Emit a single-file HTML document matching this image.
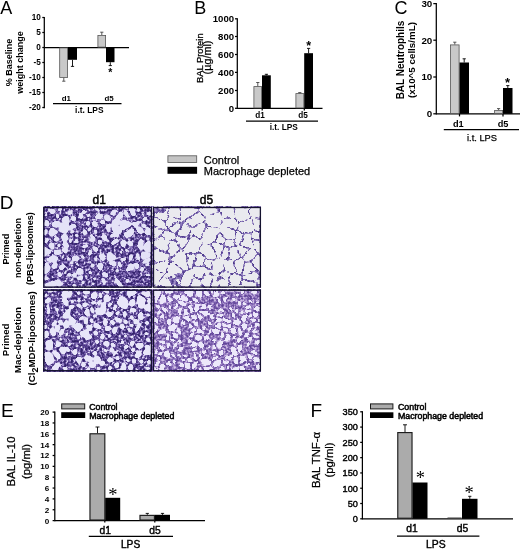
<!DOCTYPE html>
<html lang="en">
<head>
<meta charset="utf-8">
<title>Figure</title>
<style>
html,body{margin:0;padding:0;background:#fff;}
body{width:520px;height:549px;overflow:hidden;}
svg{display:block;font-family:"Liberation Sans", Arial, sans-serif;}
</style>
</head>
<body>
<svg width="520" height="549" viewBox="0 0 520 549">
<rect x="0" y="0" width="520" height="549" fill="#fff"/>
<text x="0.2" y="13.8" font-size="18" text-anchor="start" fill="#000">A</text>
<line x1="44.3" y1="16.875" x2="44.3" y2="108.125" stroke="#000" stroke-width="1.25"/>
<line x1="42.3" y1="17.5" x2="44.3" y2="17.5" stroke="#000" stroke-width="1.25"/>
<text x="40.8" y="19.8" font-size="8.2" text-anchor="end" font-weight="bold" fill="#000">10</text>
<line x1="42.3" y1="32.5" x2="44.3" y2="32.5" stroke="#000" stroke-width="1.25"/>
<text x="40.8" y="34.8" font-size="8.2" text-anchor="end" font-weight="bold" fill="#000">5</text>
<line x1="42.3" y1="47.5" x2="44.3" y2="47.5" stroke="#000" stroke-width="1.25"/>
<text x="40.8" y="49.8" font-size="8.2" text-anchor="end" font-weight="bold" fill="#000">0</text>
<line x1="42.3" y1="62.5" x2="44.3" y2="62.5" stroke="#000" stroke-width="1.25"/>
<text x="40.8" y="64.8" font-size="8.2" text-anchor="end" font-weight="bold" fill="#000">-5</text>
<line x1="42.3" y1="77.5" x2="44.3" y2="77.5" stroke="#000" stroke-width="1.25"/>
<text x="40.8" y="79.8" font-size="8.2" text-anchor="end" font-weight="bold" fill="#000">-10</text>
<line x1="42.3" y1="92.5" x2="44.3" y2="92.5" stroke="#000" stroke-width="1.25"/>
<text x="40.8" y="94.8" font-size="8.2" text-anchor="end" font-weight="bold" fill="#000">-15</text>
<line x1="42.3" y1="107.5" x2="44.3" y2="107.5" stroke="#000" stroke-width="1.25"/>
<text x="40.8" y="109.8" font-size="8.2" text-anchor="end" font-weight="bold" fill="#000">-20</text>
<line x1="44.3" y1="47.5" x2="129" y2="47.5" stroke="#000" stroke-width="1.25"/>
<rect x="59.699999999999996" y="47.9" width="7.900000000000003" height="29.499999999999996" fill="#c9c9c9" stroke="#555" stroke-width="0.8"/>
<line x1="63.8" y1="77.8" x2="63.8" y2="81.2" stroke="#444" stroke-width="0.9"/>
<line x1="62.199999999999996" y1="81.2" x2="65.39999999999999" y2="81.2" stroke="#444" stroke-width="0.9"/>
<rect x="68" y="47.5" width="9" height="12.299999999999997" fill="#000"/>
<line x1="72.5" y1="59.8" x2="72.5" y2="66.4" stroke="#000" stroke-width="0.9"/>
<line x1="70.9" y1="66.4" x2="74.1" y2="66.4" stroke="#000" stroke-width="0.9"/>
<rect x="97.9" y="35.4" width="7.7" height="11.7" fill="#c9c9c9" stroke="#555" stroke-width="0.8"/>
<line x1="101.8" y1="35" x2="101.8" y2="32.2" stroke="#444" stroke-width="0.9"/>
<line x1="100.2" y1="32.2" x2="103.39999999999999" y2="32.2" stroke="#444" stroke-width="0.9"/>
<rect x="106" y="47.5" width="8.5" height="14.700000000000003" fill="#000"/>
<line x1="110.3" y1="62.2" x2="110.3" y2="65.6" stroke="#000" stroke-width="0.9"/>
<line x1="108.7" y1="65.6" x2="111.89999999999999" y2="65.6" stroke="#000" stroke-width="0.9"/>
<text x="110.3" y="76.3" font-size="10.5" text-anchor="middle" font-weight="bold" fill="#000">*</text>
<text x="66.3" y="100.8" font-size="7.9" text-anchor="middle" font-weight="bold" fill="#000">d1</text>
<text x="109" y="100.8" font-size="7.9" text-anchor="middle" font-weight="bold" fill="#000">d5</text>
<line x1="53" y1="103.5" x2="121.5" y2="103.5" stroke="#000" stroke-width="1.25"/>
<text x="89.3" y="113.4" font-size="8.4" text-anchor="middle" font-weight="bold" fill="#000">i.t. LPS</text>
<text x="12.2" y="62.5" font-size="9" text-anchor="middle" font-weight="bold" transform="rotate(-90 12.2 62.5)" fill="#000">% Baseline</text>
<text x="23.2" y="62.5" font-size="9" text-anchor="middle" font-weight="bold" transform="rotate(-90 23.2 62.5)" fill="#000">weight change</text>
<text x="194.3" y="13.7" font-size="18" text-anchor="start" fill="#000">B</text>
<line x1="237.3" y1="18.175" x2="237.3" y2="108.925" stroke="#000" stroke-width="1.25"/>
<line x1="235.0" y1="18.8" x2="237.3" y2="18.8" stroke="#000" stroke-width="1.25"/>
<text x="234.1" y="22.0" font-size="9.6" text-anchor="end" font-weight="bold" fill="#000">1000</text>
<line x1="235.0" y1="36.5" x2="237.3" y2="36.5" stroke="#000" stroke-width="1.25"/>
<text x="234.1" y="39.7" font-size="9.6" text-anchor="end" font-weight="bold" fill="#000">800</text>
<line x1="235.0" y1="54.5" x2="237.3" y2="54.5" stroke="#000" stroke-width="1.25"/>
<text x="234.1" y="57.7" font-size="9.6" text-anchor="end" font-weight="bold" fill="#000">600</text>
<line x1="235.0" y1="72.4" x2="237.3" y2="72.4" stroke="#000" stroke-width="1.25"/>
<text x="234.1" y="75.6" font-size="9.6" text-anchor="end" font-weight="bold" fill="#000">400</text>
<line x1="235.0" y1="90.5" x2="237.3" y2="90.5" stroke="#000" stroke-width="1.25"/>
<text x="234.1" y="93.7" font-size="9.6" text-anchor="end" font-weight="bold" fill="#000">200</text>
<line x1="235.0" y1="108.3" x2="237.3" y2="108.3" stroke="#000" stroke-width="1.25"/>
<text x="234.1" y="111.5" font-size="9.6" text-anchor="end" font-weight="bold" fill="#000">0</text>
<line x1="237.3" y1="108.3" x2="322.5" y2="108.3" stroke="#000" stroke-width="1.25"/>
<line x1="262.2" y1="108.3" x2="262.2" y2="110.6" stroke="#000" stroke-width="1.25"/>
<line x1="304.3" y1="108.3" x2="304.3" y2="110.6" stroke="#000" stroke-width="1.25"/>
<rect x="253.9" y="86.60000000000001" width="7.7" height="21.299999999999994" fill="#c9c9c9" stroke="#555" stroke-width="0.8"/>
<line x1="257.8" y1="86.2" x2="257.8" y2="82.5" stroke="#444" stroke-width="0.9"/>
<line x1="256.2" y1="82.5" x2="259.40000000000003" y2="82.5" stroke="#444" stroke-width="0.9"/>
<rect x="262" y="75.3" width="8.800000000000011" height="33.0" fill="#000"/>
<line x1="266.4" y1="75.3" x2="266.4" y2="74.3" stroke="#000" stroke-width="0.9"/>
<line x1="264.79999999999995" y1="74.3" x2="268.0" y2="74.3" stroke="#000" stroke-width="0.9"/>
<rect x="295.9" y="93.60000000000001" width="7.899999999999989" height="14.299999999999994" fill="#c9c9c9" stroke="#555" stroke-width="0.8"/>
<line x1="299.8" y1="93.2" x2="299.8" y2="92.6" stroke="#444" stroke-width="0.9"/>
<line x1="298.2" y1="92.6" x2="301.40000000000003" y2="92.6" stroke="#444" stroke-width="0.9"/>
<rect x="304.2" y="53.2" width="8.800000000000011" height="55.099999999999994" fill="#000"/>
<line x1="308.6" y1="53.2" x2="308.6" y2="48.4" stroke="#000" stroke-width="0.9"/>
<line x1="307.0" y1="48.4" x2="310.20000000000005" y2="48.4" stroke="#000" stroke-width="0.9"/>
<text x="308.6" y="49.5" font-size="12.5" text-anchor="middle" font-weight="bold" fill="#000">*</text>
<text x="260" y="118.3" font-size="8.2" text-anchor="middle" font-weight="bold" fill="#000">d1</text>
<text x="303" y="118.3" font-size="8.2" text-anchor="middle" font-weight="bold" fill="#000">d5</text>
<line x1="246" y1="121" x2="318" y2="121" stroke="#000" stroke-width="1.25"/>
<text x="283.8" y="130.2" font-size="8.3" text-anchor="middle" font-weight="bold" fill="#000">i.t. LPS</text>
<text x="202.8" y="58.2" font-size="9.4" text-anchor="middle" transform="rotate(-90 202.8 58.2)" fill="#000" stroke="#000" stroke-width="0.25">BAL Protein</text>
<text x="210.8" y="57.5" font-size="10.8" text-anchor="middle" transform="rotate(-90 210.8 57.5)" fill="#000" stroke="#000" stroke-width="0.25">(µg/ml)</text>
<text x="394.6" y="13.8" font-size="18" text-anchor="start" fill="#000">C</text>
<line x1="436.3" y1="2.975" x2="436.3" y2="114.425" stroke="#000" stroke-width="1.25"/>
<line x1="433.3" y1="3.6" x2="436.3" y2="3.6" stroke="#000" stroke-width="1.25"/>
<text x="432.3" y="7.0" font-size="9.8" text-anchor="end" font-weight="bold" fill="#000">30</text>
<line x1="433.3" y1="40.2" x2="436.3" y2="40.2" stroke="#000" stroke-width="1.25"/>
<text x="432.3" y="43.6" font-size="9.8" text-anchor="end" font-weight="bold" fill="#000">20</text>
<line x1="433.3" y1="77" x2="436.3" y2="77" stroke="#000" stroke-width="1.25"/>
<text x="432.3" y="80.4" font-size="9.8" text-anchor="end" font-weight="bold" fill="#000">10</text>
<line x1="433.3" y1="113.8" x2="436.3" y2="113.8" stroke="#000" stroke-width="1.25"/>
<text x="432.3" y="117.2" font-size="9.8" text-anchor="end" font-weight="bold" fill="#000">0</text>
<line x1="436.3" y1="113.8" x2="520" y2="113.8" stroke="#000" stroke-width="1.25"/>
<line x1="459.5" y1="113.8" x2="459.5" y2="116.4" stroke="#000" stroke-width="1.25"/>
<line x1="503" y1="113.8" x2="503" y2="116.4" stroke="#000" stroke-width="1.25"/>
<rect x="450.4" y="44.9" width="8.7" height="68.5" fill="#c9c9c9" stroke="#555" stroke-width="0.8"/>
<line x1="454.8" y1="44.5" x2="454.8" y2="42.2" stroke="#444" stroke-width="0.9"/>
<line x1="453.2" y1="42.2" x2="456.40000000000003" y2="42.2" stroke="#444" stroke-width="0.9"/>
<rect x="459.5" y="62.5" width="9.5" height="51.3" fill="#000"/>
<line x1="464.2" y1="62.5" x2="464.2" y2="58.8" stroke="#000" stroke-width="0.9"/>
<line x1="462.59999999999997" y1="58.8" x2="465.8" y2="58.8" stroke="#000" stroke-width="0.9"/>
<rect x="494.59999999999997" y="110.4" width="8.00000000000001" height="2.9999999999999973" fill="#c9c9c9" stroke="#555" stroke-width="0.8"/>
<line x1="498.6" y1="110" x2="498.6" y2="108.6" stroke="#444" stroke-width="0.9"/>
<line x1="497.0" y1="108.6" x2="500.20000000000005" y2="108.6" stroke="#444" stroke-width="0.9"/>
<rect x="503" y="88" width="9.5" height="25.799999999999997" fill="#000"/>
<line x1="507.8" y1="88" x2="507.8" y2="85.6" stroke="#000" stroke-width="0.9"/>
<line x1="506.2" y1="85.6" x2="509.40000000000003" y2="85.6" stroke="#000" stroke-width="0.9"/>
<text x="507.6" y="87" font-size="13" text-anchor="middle" font-weight="bold" fill="#000">*</text>
<text x="458.3" y="126.5" font-size="9.2" text-anchor="middle" font-weight="bold" fill="#000">d1</text>
<text x="503" y="126.5" font-size="9.2" text-anchor="middle" font-weight="bold" fill="#000">d5</text>
<line x1="443.8" y1="129.6" x2="519" y2="129.6" stroke="#000" stroke-width="1.25"/>
<text x="482" y="141.3" font-size="9.3" text-anchor="middle" fill="#000" stroke="#000" stroke-width="0.25">i.t. LPS</text>
<text x="403.6" y="60" font-size="10" text-anchor="middle" font-weight="bold" transform="rotate(-90 403.6 60)" fill="#000">BAL Neutrophils</text>
<text x="415.3" y="60" font-size="9.8" text-anchor="middle" font-weight="bold" transform="rotate(-90 415.3 60)" fill="#000">(x10^5 cells/mL)</text>
<rect x="167.9" y="155.8" width="28.8" height="6.6" fill="#c4c4c4" stroke="#555" stroke-width="0.8"/>
<rect x="167.5" y="166.8" width="29.6" height="7" fill="#000"/>
<text x="203.8" y="163.7" font-size="11" text-anchor="start" fill="#000" stroke="#000" stroke-width="0.25">Control</text>
<text x="203.8" y="174.9" font-size="11" text-anchor="start" fill="#000" stroke="#000" stroke-width="0.25">Macrophage depleted</text>
<text x="-0.2" y="208.8" font-size="19" text-anchor="start" fill="#000">D</text>
<text x="99.3" y="204" font-size="12" text-anchor="middle" fill="#000" stroke="#000" stroke-width="0.45">d1</text>
<text x="206.5" y="204" font-size="12" text-anchor="middle" fill="#000" stroke="#000" stroke-width="0.45">d5</text>
<filter id="th1" x="0" y="0" width="100%" height="100%" color-interpolation-filters="sRGB"><feTurbulence type="fractalNoise" baseFrequency="0.42" numOctaves="2" seed="4"/><feColorMatrix type="matrix" values="1 0 0 0 0 1 0 0 0 0 1 0 0 0 0 0 0 0 0 1"/><feComponentTransfer result="B"><feFuncR type="table" tableValues="0.157 0.161 0.165 0.169 0.173 0.176 0.18 0.184 0.188 0.192 0.196 0.2 0.204 0.208 0.212 0.216 0.22 0.224 0.227 0.249 0.27 0.291 0.313 0.334 0.355 0.376 0.412 0.447 0.482 0.518 0.553 0.588 0.646 0.704 0.762 0.82 0.878 0.881 0.883 0.885 0.887 0.89 0.892 0.894 0.896 0.899 0.901 0.903 0.905 0.908 0.91"/><feFuncG type="table" tableValues="0.102 0.105 0.108 0.111 0.114 0.117 0.12 0.123 0.126 0.129 0.132 0.136 0.139 0.142 0.145 0.148 0.151 0.154 0.157 0.176 0.195 0.214 0.233 0.252 0.271 0.29 0.327 0.363 0.4 0.437 0.473 0.51 0.579 0.648 0.717 0.786 0.855 0.857 0.859 0.862 0.864 0.866 0.868 0.871 0.873 0.875 0.877 0.88 0.882 0.884 0.886"/><feFuncB type="table" tableValues="0.345 0.351 0.357 0.363 0.369 0.376 0.382 0.388 0.394 0.4 0.406 0.412 0.418 0.424 0.431 0.437 0.443 0.449 0.455 0.475 0.495 0.515 0.536 0.556 0.576 0.596 0.626 0.656 0.686 0.716 0.746 0.776 0.813 0.849 0.885 0.921 0.957 0.958 0.959 0.96 0.961 0.962 0.964 0.965 0.966 0.967 0.968 0.969 0.97 0.971 0.973"/></feComponentTransfer></filter>
<filter id="wh1" x="-5%" y="-5%" width="110%" height="110%" color-interpolation-filters="sRGB"><feTurbulence type="fractalNoise" baseFrequency="0.1" numOctaves="2" seed="2"/><feDisplacementMap in="SourceGraphic" scale="5" xChannelSelector="R" yChannelSelector="G"/><feGaussianBlur stdDeviation="0.9"/><feComponentTransfer><feFuncA type="linear" slope="7" intercept="-3"/></feComponentTransfer><feGaussianBlur stdDeviation="0.3"/></filter>
<clipPath id="ch1"><rect x="43.2" y="206.9" width="108.8" height="80.8"/></clipPath>
<rect x="43.2" y="206.9" width="108.8" height="80.8" filter="url(#th1)"/>
<g clip-path="url(#ch1)"><g filter="url(#wh1)"><path d="M57.6,280.6 57.0,281.0 57.7,285.4 59.3,285.4 60.5,283.0 59.3,280.7ZM76.7,240.8 76.6,242.5 78.5,242.6 78.5,242.1 77.5,240.8ZM127.3,250.4 126.6,249.6 125.8,250.1 126.4,251.9 127.4,251.0ZM78.2,271.7 79.2,272.5 81.1,272.2 82.3,270.9 80.4,268.9 79.2,269.2ZM57.8,236.9 58.3,240.2 56.1,240.8 54.5,239.4ZM62.7,224.1 67.0,224.5 66.8,232.2 60.8,231.2 60.2,229.4ZM146.7,265.9 150.1,265.0 150.1,264.2 146.6,265.7ZM96.4,217.3 97.8,215.3 100.4,214.5 100.9,214.8 100.3,217.6 99.2,218.1ZM49.7,252.0 45.5,255.5 45.5,249.0 47.1,248.6ZM109.5,230.5 108.2,231.2 108.0,231.2 106.9,226.8 108.6,225.1ZM100.0,264.6 102.9,265.1 102.5,267.8 100.6,270.1 97.8,267.1 98.2,265.3ZM59.0,275.9 59.8,275.9 60.0,275.6 59.3,273.0 58.5,272.9ZM117.1,269.8 116.9,269.9 116.7,271.1 117.5,271.7 118.3,270.5ZM63.6,271.5 64.0,272.9 65.6,270.6 65.2,269.8ZM142.4,248.9 140.9,249.6 137.8,245.5 138.5,244.3 142.0,246.1ZM115.0,265.8 114.3,266.3 108.9,263.5 115.2,262.3ZM67.6,256.4 67.7,256.3 68.7,257.2 68.7,258.7 66.5,260.6ZM58.0,245.4 59.6,245.0 59.7,246.5 58.1,246.1ZM142.6,242.6 139.9,241.3 142.1,238.2 142.9,241.7ZM120.9,284.5 116.4,279.5 115.0,280.4 115.0,281.9 119.4,285.9 121.0,285.9ZM120.3,231.8 119.1,227.3 112.3,223.1 113.5,230.5ZM133.2,208.5 134.6,213.9 133.0,215.2 129.2,208.5ZM86.4,233.7 85.9,234.7 83.6,233.6 83.5,230.1 84.4,229.9 84.5,229.9ZM120.5,221.3 119.5,223.8 113.7,220.2ZM71.2,239.0 71.7,239.6 71.6,243.1 71.5,243.2 70.2,241.1 70.8,238.9ZM52.6,255.1 56.7,257.3 56.8,259.8 48.9,261.8 46.4,260.4ZM111.8,242.3 113.5,244.2 117.4,241.5 118.1,240.2ZM138.1,254.8 138.8,259.8 136.5,259.7 136.6,255.3ZM103.5,224.1 104.7,222.9 101.9,221.1 101.5,221.4 101.9,224.1ZM70.2,214.1 73.5,212.7 73.4,212.5 69.2,211.1 69.4,213.3ZM69.4,268.5 71.0,268.8 70.9,269.7 69.7,269.2ZM121.7,218.1 115.3,217.0 120.5,212.1ZM107.3,275.5 107.5,274.3 105.2,272.6 103.6,274.5 106.5,275.9ZM90.1,236.6 90.3,236.1 91.4,235.8 94.6,237.4 92.8,240.5 92.3,240.7ZM53.0,223.4 55.6,221.8 59.3,222.1 59.5,222.5 57.5,226.8 52.7,225.2ZM74.4,232.1 74.4,232.1 71.7,233.8 72.2,233.9ZM77.6,253.3 78.8,253.2 78.9,253.6 78.7,254.0 77.4,253.6ZM126.6,269.1 130.6,264.9 131.8,268.9 127.5,270.1ZM53.8,247.5 52.6,248.9 50.3,245.9 52.0,243.0 53.6,244.5ZM62.9,220.8 62.5,219.9 62.6,219.1 67.4,216.4 68.0,217.0 68.0,221.3ZM146.9,238.9 146.5,237.3 149.2,237.5 149.2,238.8ZM75.6,273.9 76.7,274.7 75.7,276.7 73.5,275.9 73.7,273.9ZM51.8,265.2 58.1,263.7 55.6,268.3 52.8,267.0ZM65.6,239.8 66.8,235.8 66.7,235.7 62.1,235.0 62.9,240.2ZM67.6,275.2 69.5,276.1 69.6,276.0 69.8,274.1 68.7,273.6ZM111.3,237.7 111.1,235.4 112.5,234.6 117.8,235.6ZM82.8,246.6 82.9,247.9 87.3,247.4 88.9,246.2 88.9,246.1ZM146.3,230.7 148.1,228.8 150.3,230.5 150.3,233.1 146.0,232.7ZM64.9,280.4 64.3,279.2 66.8,280.4 66.8,280.7ZM46.1,234.9 46.6,229.2 45.5,229.0 45.5,233.1 45.5,234.9ZM131.5,260.4 131.3,260.5 130.3,259.5 129.6,256.3 131.1,255.2 131.6,255.4ZM46.0,243.6 46.0,240.0 47.5,239.8 48.3,240.3 46.2,243.6ZM106.6,235.3 106.9,240.4 106.5,240.5 101.0,236.3 105.9,235.1ZM138.4,264.1 136.5,269.3 136.2,269.3 135.7,268.9 134.3,264.1 134.7,263.8ZM44.9,284.8 44.9,286.0 53.7,286.0 53.0,281.4ZM103.6,260.0 101.6,259.7 99.9,255.2 101.5,254.3 103.8,255.0ZM45.5,224.2 48.3,224.8 48.6,222.9 46.3,220.1 45.5,220.2ZM72.6,218.2 74.0,217.5 74.8,220.1 74.5,220.5 72.6,220.2ZM63.0,249.7 66.7,250.2 66.5,251.9 65.4,252.3 63.4,251.9 62.9,249.9ZM93.0,284.0 93.1,285.1 91.8,285.1ZM74.9,226.7 70.2,229.7 70.4,224.5 74.3,225.2ZM125.2,259.2 124.7,257.2 121.2,258.5 120.7,259.0 122.2,259.9ZM89.0,263.0 89.2,261.7 90.7,262.1ZM45.7,215.3 45.8,215.2 46.2,214.7 45.7,213.8ZM94.6,279.1 93.9,278.9 93.1,277.6 93.5,277.4 95.9,277.8ZM78.8,279.3 78.6,278.8 80.0,275.9 80.5,275.8 81.2,278.4ZM89.3,216.3 87.7,215.9 87.7,215.9 88.4,213.7ZM142.8,258.4 150.2,254.7 150.2,253.8 144.2,251.8 142.1,252.8ZM56.8,217.1 57.8,217.2 57.1,214.8 56.2,214.2 55.7,214.7ZM108.0,254.5 107.9,260.1 115.3,258.8 111.0,253.3ZM47.2,265.3 49.4,268.8 48.1,272.5 45.1,273.3 45.1,264.0ZM127.5,279.6 127.5,279.6 129.0,280.1 129.0,280.1 126.8,281.2ZM59.5,210.6 57.7,209.3 57.6,209.0 61.9,209.0ZM91.9,253.0 88.9,254.1 89.9,250.7 90.4,250.3ZM150.1,249.9 145.8,248.4 145.4,245.2 146.0,243.6 150.1,243.4ZM53.3,209.1 53.4,209.9 51.3,212.3 50.3,212.5 48.7,209.1ZM81.4,211.6 83.9,213.2 84.5,211.5 82.4,209.9ZM112.5,213.5 112.0,213.0 113.0,209.7 116.5,209.7ZM61.5,258.8 61.4,257.4 61.9,257.0ZM97.4,247.8 98.0,250.0 96.2,250.9 93.9,246.8 93.9,246.1 94.4,245.9ZM74.1,280.3 72.2,279.6 72.0,279.8 71.9,280.9ZM85.4,257.1 85.4,257.1 82.1,257.5 82.1,257.3 82.5,256.5ZM98.2,208.7 98.6,211.1 97.6,211.4 96.3,208.7ZM83.1,281.9 80.7,282.7 82.1,283.3ZM68.2,246.7 68.4,246.5 66.4,243.3 63.6,243.7 63.8,246.2ZM96.7,260.7 96.2,260.9 95.6,260.6 95.2,260.1 95.5,257.8ZM129.2,244.8 128.7,241.2 129.6,241.2 131.4,244.8 130.1,245.8ZM137.7,209.4 138.1,210.8 138.9,210.0 138.8,209.4ZM139.3,223.8 139.8,222.7 139.6,222.3 133.3,221.8 133.5,225.0 134.8,225.8ZM59.3,250.6 59.9,253.0 58.4,254.1 54.5,252.0 56.3,249.9ZM104.3,218.0 104.8,215.2 105.5,215.0 107.8,215.5 110.4,218.1 109.9,219.8 109.5,220.1 108.1,220.4ZM120.9,251.4 120.9,251.4 121.4,253.7 121.7,253.6ZM62.5,265.2 62.0,265.1 60.2,268.5 60.5,268.6 63.2,265.7ZM77.5,236.2 77.3,236.6 75.8,236.6 76.9,235.7ZM101.7,278.7 104.5,280.1 105.0,284.7 104.6,285.5ZM75.4,284.8 75.2,285.3 73.5,285.3ZM72.8,263.1 72.7,264.7 69.4,264.2 71.5,262.3ZM121.2,266.8 118.9,265.6 119.0,263.0 120.2,263.6ZM141.0,214.4 142.1,215.5 142.4,215.3 142.0,213.4ZM136.4,217.7 137.2,217.1 137.9,217.8ZM57.1,230.7 57.5,231.8 51.0,236.6 50.1,236.0 50.8,228.7ZM101.7,242.4 99.0,240.3 98.0,242.0 100.0,243.2ZM142.2,266.3 140.7,270.4 142.1,271.4 142.6,270.9 143.1,268.4ZM72.9,257.2 73.9,256.9 78.3,258.2 78.5,259.5 75.2,260.3 73.0,258.8ZM94.9,224.5 97.5,225.3 97.8,225.0 97.3,222.0 94.0,221.0 94.1,223.4ZM145.8,224.7 146.3,225.2 146.2,225.7 144.8,227.2 142.8,224.9 143.0,224.6ZM124.0,240.2 123.0,239.6 121.2,243.0 122.4,246.5 124.7,244.8ZM142.8,230.5 142.4,233.1 138.1,231.5 136.9,228.8 140.2,227.4ZM96.5,232.5 94.7,231.6 95.3,229.6 95.9,229.8ZM89.9,271.4 89.1,271.3 90.1,272.7ZM143.1,220.9 142.9,220.5 143.2,219.5 145.0,218.4 145.3,218.6 145.0,221.0ZM91.9,266.8 93.0,266.2 93.2,265.4 90.8,266.6ZM88.3,229.0 89.5,231.3 90.1,231.2 91.3,227.1ZM147.5,215.2 146.7,214.8 146.4,213.4 148.5,212.6 149.9,213.3 149.9,214.5ZM77.2,264.7 78.3,265.3 78.6,265.2 78.7,263.9 78.6,263.7 77.2,264.0ZM46.1,279.4 48.7,278.2 48.2,277.3 46.1,278.0ZM79.5,218.0 78.6,214.8 78.9,214.7 82.8,217.3 82.8,217.3ZM84.8,274.3 84.7,274.4 85.3,276.9 86.3,276.1ZM86.9,224.3 89.0,222.8 89.0,221.9 86.7,221.3ZM126.1,216.9 129.2,217.6 124.8,209.7 124.6,209.7ZM150.1,260.1 150.1,258.9 143.6,262.1 144.3,262.5ZM148.3,275.5 149.8,275.4 149.8,274.2 146.7,274.2ZM129.6,222.5 124.3,221.3 122.4,226.4 123.2,229.4 129.8,225.1ZM132.4,229.8 133.5,232.3 130.0,236.1 126.8,236.2 124.8,234.8 124.6,234.1 131.8,229.4Z" fill="#e4e2f7" stroke="#e4e2f7" stroke-width="2.2" stroke-linejoin="round"/></g></g>
<rect x="43.800000000000004" y="207.5" width="107.6" height="79.6" fill="none" stroke="#14122e" stroke-width="1.3"/>
<filter id="th2" x="0" y="0" width="100%" height="100%" color-interpolation-filters="sRGB"><feTurbulence type="fractalNoise" baseFrequency="0.42" numOctaves="2" seed="8"/><feColorMatrix type="matrix" values="1 0 0 0 0 1 0 0 0 0 1 0 0 0 0 0 0 0 0 1"/><feComponentTransfer result="B"><feFuncR type="table" tableValues="0.251 0.256 0.261 0.266 0.271 0.276 0.282 0.287 0.292 0.297 0.302 0.307 0.312 0.317 0.322 0.327 0.333 0.338 0.343 0.348 0.353 0.376 0.398 0.421 0.444 0.467 0.489 0.512 0.535 0.558 0.58 0.591 0.601 0.611 0.621 0.631 0.642 0.652 0.662 0.672 0.682 0.693 0.703 0.713 0.723 0.733 0.744 0.754 0.764 0.774 0.784"/><feFuncG type="table" tableValues="0.18 0.185 0.19 0.195 0.199 0.204 0.209 0.213 0.218 0.223 0.227 0.232 0.237 0.242 0.246 0.251 0.256 0.26 0.265 0.27 0.275 0.298 0.322 0.345 0.369 0.392 0.416 0.439 0.463 0.486 0.51 0.522 0.533 0.545 0.557 0.569 0.58 0.592 0.604 0.616 0.627 0.639 0.651 0.663 0.675 0.686 0.698 0.71 0.722 0.733 0.745"/><feFuncB type="table" tableValues="0.486 0.491 0.496 0.502 0.507 0.512 0.517 0.522 0.527 0.532 0.537 0.542 0.547 0.553 0.558 0.563 0.568 0.573 0.578 0.583 0.588 0.605 0.623 0.64 0.657 0.675 0.692 0.709 0.726 0.744 0.761 0.766 0.772 0.777 0.783 0.788 0.794 0.799 0.805 0.81 0.816 0.821 0.827 0.832 0.838 0.843 0.849 0.854 0.86 0.865 0.871"/></feComponentTransfer></filter>
<filter id="wh2" x="-5%" y="-5%" width="110%" height="110%" color-interpolation-filters="sRGB"><feTurbulence type="fractalNoise" baseFrequency="0.09" numOctaves="2" seed="3"/><feDisplacementMap in="SourceGraphic" scale="6" xChannelSelector="R" yChannelSelector="G"/><feGaussianBlur stdDeviation="0.45"/><feComponentTransfer><feFuncA type="linear" slope="7" intercept="-3"/></feComponentTransfer><feGaussianBlur stdDeviation="0.3"/></filter>
<clipPath id="ch2"><rect x="152.9" y="206.9" width="108.1" height="80.8"/></clipPath>
<rect x="152.9" y="206.9" width="108.1" height="80.8" filter="url(#th2)"/>
<g clip-path="url(#ch2)"><g filter="url(#wh2)"><path d="M183.8,224.7 187.3,230.2 187.7,233.4 179.2,233.2ZM247.8,215.9 240.2,221.2 236.7,216.4 236.9,209.0 246.2,209.0ZM212.9,271.9 214.1,272.6 216.2,273.0 221.5,268.4 222.0,260.9 219.1,259.0 218.3,258.9 217.7,259.4 212.4,270.7ZM171.6,214.1 178.2,215.2 177.9,209.1 171.3,209.1 170.3,211.2ZM181.1,253.5 173.0,258.5 184.3,268.5 185.5,268.3 184.0,255.3ZM217.5,213.6 219.7,219.8 218.5,225.3 208.7,223.4 206.8,220.6 206.3,217.6ZM201.8,259.0 201.5,263.7 197.1,264.3 199.2,255.1ZM253.7,262.9 258.8,268.5 258.8,255.5ZM198.5,214.0 187.6,221.7 190.7,226.4 202.2,220.3 201.7,217.1ZM186.8,251.7 196.2,251.1 197.9,249.8 200.0,243.9 199.4,243.0 192.0,239.8 184.2,250.1ZM249.9,265.1 246.8,265.1 244.3,272.2 254.7,270.3ZM187.3,285.4 182.0,285.4 185.1,273.1 188.2,272.5 188.5,272.5 191.8,277.2ZM167.5,215.7 164.8,218.8 156.3,213.6 166.5,213.4ZM221.3,274.8 224.1,272.4 227.9,273.8 226.7,276.6ZM224.4,239.5 220.0,235.3 217.6,240.1 222.8,242.0ZM201.9,250.9 203.8,245.8 208.5,246.3 214.8,256.1 205.6,256.3ZM250.5,240.1 250.2,246.6 249.4,246.8 243.6,244.1 246.3,236.3 248.4,236.7ZM250.4,251.0 244.7,258.8 246.4,260.8 249.7,260.9 255.1,253.0 251.8,250.7ZM221.7,230.6 228.2,236.8 230.9,236.5 233.4,231.5 221.7,229.3ZM231.0,240.8 232.9,245.3 231.3,246.2 226.3,245.3 226.1,244.9 228.6,241.1ZM195.5,280.2 192.6,285.3 198.8,285.3 197.9,281.4ZM177.4,219.6 168.1,225.0 167.6,222.3 171.0,218.5ZM161.2,276.0 155.0,282.0 155.0,274.0 155.0,270.7ZM155.5,242.5 161.9,239.3 165.9,244.2 165.0,249.3 155.5,245.3 155.5,243.4ZM208.0,285.3 210.3,276.5 202.7,280.9 203.7,285.3ZM237.1,256.9 233.4,258.2 231.7,257.6 233.5,249.8 234.9,249.1ZM221.8,246.9 221.9,247.1 218.7,253.4 213.4,245.2 214.8,244.3ZM255.9,227.9 254.7,220.1 258.7,220.2 258.7,227.6ZM228.5,250.5 227.0,256.8 224.8,257.1 223.2,256.1 226.3,250.1ZM155.6,236.5 160.6,234.0 162.4,231.2 155.6,229.4ZM254.7,247.2 258.6,249.9 258.6,241.3 255.0,241.7ZM182.9,217.1 183.5,218.0 184.0,218.3 184.3,218.4 196.1,210.1 196.0,209.3 182.6,209.3ZM204.3,213.4 200.9,210.0 200.8,209.3 215.6,209.3ZM253.1,283.0 253.1,285.3 243.1,285.3 243.6,283.9ZM155.3,218.3 155.3,224.0 163.6,226.2 163.0,223.1ZM244.3,278.7 244.1,276.9 257.0,274.7 254.3,277.9ZM193.4,271.0 194.8,269.9 203.2,268.7 207.8,272.2 199.9,276.8 196.3,275.0ZM245.1,250.1 241.5,254.9 239.7,248.3 240.7,248.0ZM238.4,231.6 234.9,238.7 237.1,244.0 239.1,243.4 242.1,234.6 238.4,231.6ZM250.5,208.9 252.0,215.4 252.5,215.7 259.0,215.8 259.0,208.9 254.2,208.9ZM236.4,227.1 236.3,227.1 223.8,224.7 224.4,221.9 233.4,220.1 236.9,224.7ZM174.2,231.3 170.4,229.2 177.6,225.1ZM164.8,279.0 165.0,279.2 169.3,285.1 158.6,285.1ZM223.9,216.5 221.8,210.6 222.1,209.6 222.5,209.6 232.0,209.6 231.9,214.9ZM241.0,228.1 245.7,231.8 249.0,232.5 251.7,229.7 250.2,219.4 241.6,225.3ZM173.4,238.2 173.8,236.3 173.8,236.3 167.1,232.8 165.1,235.9 169.2,240.8ZM215.5,277.4 215.0,277.3 212.8,285.4 217.3,285.4ZM232.3,270.0 231.5,262.0 229.0,261.2 226.1,261.6 225.7,268.0 231.6,270.2ZM177.9,239.2 178.1,238.5 186.9,238.7 181.6,245.7ZM212.0,260.7 209.2,266.8 206.5,264.8 206.8,260.8ZM233.4,285.5 238.1,285.5 239.6,281.3 239.2,276.1 234.3,273.9 233.1,274.2 230.6,279.8ZM239.8,260.9 240.5,261.1 242.5,263.5 239.8,271.2 236.8,269.9 236.1,262.2ZM167.4,261.7 155.6,265.7 163.4,272.3ZM169.7,252.3 171.0,245.1 174.3,243.1 177.9,249.7 170.9,253.9ZM171.5,263.3 179.8,270.6 167.2,274.6ZM255.0,232.6 258.6,232.3 258.6,236.5 253.9,237.0 252.7,235.1ZM165.2,255.1 166.6,256.9 155.5,260.7 155.5,255.7 155.5,251.0ZM221.1,280.2 222.3,285.2 228.0,285.2 226.4,281.9ZM189.1,256.3 193.6,256.0 191.4,265.9 190.3,266.7ZM204.3,225.8 203.7,225.0 192.9,230.8 193.4,235.0 199.3,237.7ZM209.2,242.2 212.8,239.9 217.3,231.0 217.3,229.6 208.6,227.9 203.2,241.0 203.6,241.6Z" fill="#eaeaef" stroke="#eaeaef" stroke-width="3.2" stroke-linejoin="round"/></g></g>
<filter id="eh2" x="0" y="0" width="100%" height="100%" color-interpolation-filters="sRGB"><feTurbulence type="fractalNoise" baseFrequency="0.2" numOctaves="2" seed="5"/><feColorMatrix type="matrix" values="0 0 0 0 0.918 0 0 0 0 0.918 0 0 0 0 0.937 16.67 0 0 0 -9.33"/></filter>
<rect x="152.9" y="206.9" width="108.1" height="80.8" filter="url(#eh2)"/>
<rect x="153.5" y="207.5" width="106.89999999999999" height="79.6" fill="none" stroke="#14122e" stroke-width="1.3"/>
<filter id="th3" x="0" y="0" width="100%" height="100%" color-interpolation-filters="sRGB"><feTurbulence type="fractalNoise" baseFrequency="0.42" numOctaves="2" seed="12"/><feColorMatrix type="matrix" values="1 0 0 0 0 1 0 0 0 0 1 0 0 0 0 0 0 0 0 1"/><feComponentTransfer result="B"><feFuncR type="table" tableValues="0.157 0.161 0.165 0.169 0.173 0.176 0.18 0.184 0.188 0.192 0.196 0.2 0.204 0.208 0.212 0.216 0.22 0.224 0.227 0.249 0.27 0.291 0.313 0.334 0.355 0.376 0.412 0.447 0.482 0.518 0.553 0.588 0.646 0.704 0.762 0.82 0.878 0.881 0.883 0.885 0.887 0.89 0.892 0.894 0.896 0.899 0.901 0.903 0.905 0.908 0.91"/><feFuncG type="table" tableValues="0.102 0.105 0.108 0.111 0.114 0.117 0.12 0.123 0.126 0.129 0.132 0.136 0.139 0.142 0.145 0.148 0.151 0.154 0.157 0.176 0.195 0.214 0.233 0.252 0.271 0.29 0.327 0.363 0.4 0.437 0.473 0.51 0.579 0.648 0.717 0.786 0.855 0.857 0.859 0.862 0.864 0.866 0.868 0.871 0.873 0.875 0.877 0.88 0.882 0.884 0.886"/><feFuncB type="table" tableValues="0.345 0.351 0.357 0.363 0.369 0.376 0.382 0.388 0.394 0.4 0.406 0.412 0.418 0.424 0.431 0.437 0.443 0.449 0.455 0.475 0.495 0.515 0.536 0.556 0.576 0.596 0.626 0.656 0.686 0.716 0.746 0.776 0.813 0.849 0.885 0.921 0.957 0.958 0.959 0.96 0.961 0.962 0.964 0.965 0.966 0.967 0.968 0.969 0.97 0.971 0.973"/></feComponentTransfer></filter>
<filter id="wh3" x="-5%" y="-5%" width="110%" height="110%" color-interpolation-filters="sRGB"><feTurbulence type="fractalNoise" baseFrequency="0.1" numOctaves="2" seed="4"/><feDisplacementMap in="SourceGraphic" scale="5" xChannelSelector="R" yChannelSelector="G"/><feGaussianBlur stdDeviation="0.9"/><feComponentTransfer><feFuncA type="linear" slope="7" intercept="-3"/></feComponentTransfer><feGaussianBlur stdDeviation="0.3"/></filter>
<clipPath id="ch3"><rect x="43.2" y="289.6" width="108.8" height="81.7"/></clipPath>
<rect x="43.2" y="289.6" width="108.8" height="81.7" filter="url(#th3)"/>
<g clip-path="url(#ch3)"><g filter="url(#wh3)"><path d="M132.7,335.1 130.7,335.5 130.1,338.2 132.6,336.9ZM50.8,325.5 53.7,325.8 55.2,324.2 54.8,322.1ZM94.9,302.4 94.9,304.2 91.7,303.2 91.5,302.2ZM83.8,335.7 81.6,333.6 84.2,329.8 88.1,332.5 83.9,335.7ZM88.2,338.7 86.5,337.9 90.3,335.1 92.4,337.9ZM125.0,369.3 125.1,365.8 122.0,363.8 120.7,369.3ZM119.1,314.5 116.9,313.8 119.2,311.8ZM45.8,366.8 45.8,368.7 47.3,368.7 47.1,367.8ZM94.0,354.1 95.4,353.6 95.5,352.5 94.5,351.8ZM87.0,298.1 87.0,298.6 84.4,298.5 83.8,297.6ZM115.8,368.8 114.2,365.8 117.0,364.0 117.3,364.1 116.2,368.8ZM65.6,341.3 66.1,339.8 66.9,339.9 67.0,340.0ZM75.9,349.0 76.7,351.8 76.4,353.0 74.7,353.3 73.1,353.1 73.7,349.8 74.1,349.4ZM133.6,344.9 132.5,344.9 131.7,342.7 134.8,341.1 135.0,341.4ZM116.6,357.5 118.5,356.0 118.7,359.4 117.9,359.2ZM135.8,318.8 134.3,321.9 135.7,323.7 138.4,322.2ZM106.8,323.1 106.6,320.5 103.6,318.4 103.2,324.9 103.4,325.1ZM109.0,307.7 112.1,302.8 111.9,302.7 108.9,304.0ZM59.9,349.5 63.8,353.9 65.1,353.3 61.9,348.2ZM125.3,336.3 125.7,334.5 125.7,334.5 124.7,336.0ZM146.6,339.9 145.9,341.5 149.4,341.4 149.4,338.7ZM109.2,369.1 110.6,369.1 109.4,366.9ZM94.1,360.3 94.2,358.1 97.1,357.0 100.2,359.3 96.6,362.9ZM144.8,347.8 150.3,349.8 150.3,345.7 145.3,345.8ZM65.9,334.9 67.8,331.4 67.8,331.4 66.3,335.0ZM120.4,319.2 115.9,317.9 118.1,322.6 120.5,320.4 120.7,319.5ZM106.5,341.5 107.9,341.9 108.0,345.9 107.9,346.0 104.1,344.2 103.9,343.4 103.9,342.8ZM116.6,328.9 115.9,334.0 115.2,334.0 114.1,331.8 115.3,328.9 116.5,328.6ZM104.0,310.0 101.4,307.0 104.1,303.3 105.1,303.7 105.2,309.2ZM96.0,335.2 96.8,332.8 94.2,332.3 94.0,332.6ZM128.3,322.3 127.3,323.5 124.0,320.7 124.1,320.2 126.2,319.3ZM46.8,330.8 48.3,336.3 45.2,337.6 45.2,331.3ZM83.5,322.6 84.4,323.4 86.4,322.6 87.0,318.0 86.4,317.9ZM82.4,316.2 80.0,320.2 79.6,320.1 79.5,319.8 81.7,315.5ZM94.9,291.6 95.9,298.0 91.7,297.8 91.7,296.2 93.5,291.6ZM104.2,360.9 105.3,363.5 102.1,365.2 100.2,364.3 103.5,361.0ZM105.8,350.3 103.9,349.4 105.9,351.5ZM123.2,353.9 123.5,357.2 124.2,356.5ZM130.3,309.7 136.1,310.5 134.4,312.6 131.2,312.0ZM94.7,316.4 96.9,317.0 95.3,317.9 94.1,316.6ZM77.3,338.9 77.9,339.8 79.6,337.3 78.7,336.5ZM104.7,300.1 104.4,299.6 105.1,296.7 108.5,297.2 109.6,299.6 106.6,300.9ZM91.9,323.3 92.7,322.4 92.8,321.8 90.7,319.4 90.3,322.6ZM62.3,329.4 63.3,329.4 63.5,329.6 61.3,333.7 59.6,333.7ZM77.3,306.1 80.1,307.8 79.8,304.7 77.3,305.0ZM150.3,298.9 150.3,303.2 148.3,302.9 148.3,300.4ZM145.7,332.7 144.1,334.2 145.2,335.6 148.4,334.3ZM45.1,295.8 45.1,293.7 45.8,295.0ZM90.4,357.2 87.4,356.7 84.7,358.6 84.8,358.8 87.2,360.8 90.9,359.6 90.9,357.7ZM70.1,345.5 68.4,344.5 69.4,343.4ZM86.4,314.0 88.7,314.4 87.8,309.1 83.8,311.6ZM99.1,304.6 99.1,301.2 101.4,301.5ZM127.4,344.6 123.7,347.7 124.7,347.9 127.5,347.3 128.1,346.5ZM141.5,344.0 141.6,344.4 140.9,347.9 140.9,347.9 138.6,347.6 137.5,346.5 138.7,343.5ZM100.9,337.4 102.2,338.5 103.6,337.8 103.6,334.0 102.3,332.8ZM127.9,330.0 128.9,330.5 130.1,330.2 128.4,329.0ZM114.1,324.7 111.2,322.9 111.0,320.7 112.4,320.1 114.5,324.6ZM82.3,347.9 81.0,348.5 80.9,348.0ZM75.9,321.7 72.5,325.1 69.8,318.8 70.7,318.1 75.6,320.7ZM96.0,343.3 98.9,342.2 97.2,340.8 96.5,340.9ZM121.6,293.9 121.1,294.0 120.2,292.3 122.2,292.3ZM132.8,326.4 130.9,325.0 131.4,324.3 131.6,324.3 132.9,326.1ZM61.5,338.1 61.8,338.3 61.3,339.9 59.0,338.0ZM140.7,360.2 142.5,362.9 142.4,363.1 140.0,362.1 140.3,360.4ZM122.2,324.2 124.5,326.1 123.6,328.1 120.2,326.5 120.0,326.3ZM111.6,345.3 116.3,345.5 111.6,341.9ZM82.4,341.6 82.1,343.3 81.2,343.4ZM88.6,365.1 93.5,367.3 94.4,365.3 92.1,362.8 88.6,363.9ZM63.3,298.8 62.2,301.2 64.2,304.6 65.7,304.7 66.5,302.9 66.6,299.6ZM147.3,306.1 150.4,306.6 150.4,311.0 145.0,309.1ZM69.2,305.2 68.7,306.3 68.7,306.4 71.2,308.4 74.0,306.1 73.9,305.8ZM108.9,327.0 105.5,329.1 106.8,330.3 110.1,329.7 110.8,328.1ZM136.0,329.9 137.0,327.1 141.0,324.9 141.1,324.9 141.1,324.9 136.4,330.9 136.1,330.9ZM109.8,337.6 108.7,337.3 108.6,334.9 110.4,334.6 110.9,335.9ZM80.2,300.9 77.9,301.2 77.8,300.7 79.3,299.7ZM58.8,358.6 60.5,355.9 56.5,351.4 55.7,351.4 54.2,352.6 57.8,358.4ZM132.1,349.1 131.7,349.6 133.3,351.7 134.8,349.8 134.1,349.1ZM113.0,354.8 112.2,354.5 118.8,350.3 118.8,350.4ZM113.6,349.0 110.6,350.9 110.4,349.3 110.8,348.8ZM67.0,368.5 67.2,368.7 62.9,368.7 63.5,367.6ZM74.9,328.3 78.5,324.7 80.0,325.1 81.5,326.5 81.5,326.7 78.4,331.2ZM52.2,367.3 57.1,363.1 58.4,363.4 59.3,364.7 57.0,368.8 52.5,368.8ZM46.4,325.8 46.5,326.7 45.3,327.1 45.3,324.8ZM48.5,313.0 49.3,312.9 48.2,306.0 46.4,305.9ZM56.3,309.8 56.5,308.2 58.1,309.0 58.0,309.7ZM132.3,369.1 129.2,369.1 129.2,366.4 130.7,366.0 132.4,366.7ZM53.9,295.2 53.5,294.7 52.2,295.6 53.1,296.3ZM149.4,368.2 145.9,367.3 145.8,367.3 145.8,368.7 149.4,368.7ZM90.9,327.0 88.0,325.7 85.6,326.7 90.3,330.1 91.3,328.9ZM133.8,299.8 130.3,301.2 129.8,304.7 135.7,305.4ZM68.5,352.1 68.5,352.1 65.5,347.3 69.0,349.5ZM150.2,353.4 150.2,354.0 143.6,354.3 143.4,351.0ZM87.1,303.5 87.3,304.5 83.8,306.7 83.5,303.7 83.8,303.4ZM135.5,355.1 138.0,356.6 140.2,355.5 140.0,351.7 138.4,351.5ZM97.6,367.7 97.0,369.1 100.3,369.1 100.3,369.0ZM99.3,291.9 99.7,291.9 101.4,295.3 100.9,297.4 100.2,297.3ZM122.0,340.2 121.6,342.9 123.8,341.0ZM124.2,310.7 124.1,315.5 125.2,315.0 126.1,313.9 124.8,310.6ZM150.2,363.9 147.2,363.1 150.2,360.9ZM50.3,299.5 48.5,297.9 45.2,301.9 45.2,302.0 48.6,302.3ZM94.7,327.7 94.5,326.4 95.3,325.5 99.8,326.9 100.5,328.2 99.8,328.7ZM63.8,291.2 62.7,294.7 63.3,295.6 66.5,296.4 68.0,291.2ZM149.5,294.4 146.5,296.5 140.1,292.1 140.1,292.1 149.5,292.1ZM83.6,291.6 89.2,291.6 88.4,293.5 83.8,292.8ZM111.8,314.4 109.4,312.6 107.6,312.6 106.1,313.7 105.9,314.3 108.8,316.4 111.8,314.9 111.9,314.8ZM127.6,292.1 135.2,292.1 135.1,292.5 133.6,294.8 128.6,296.7 126.6,295.5ZM99.2,347.3 98.9,348.2 98.1,348.6 97.2,348.0ZM105.2,293.1 108.2,293.5 108.9,291.7 104.5,291.7ZM102.0,312.6 98.4,308.6 97.4,308.3 97.2,308.4 96.5,312.6 101.6,314.1ZM128.2,359.5 126.2,361.4 127.5,362.2 128.6,361.9 128.6,359.5ZM130.2,317.2 131.9,317.5 131.1,319.2 129.9,317.4ZM71.5,296.6 73.0,291.6 72.9,291.5 71.5,291.5 70.0,296.8ZM57.6,327.0 59.1,328.0 57.3,330.8 56.3,328.3ZM113.3,309.4 115.6,305.7 116.9,307.6 114.2,310.1ZM59.4,323.6 59.0,321.2 61.4,320.1 61.5,325.0ZM48.9,293.1 47.9,291.2 51.9,291.2ZM67.2,316.6 64.1,316.5 63.8,316.3 63.8,316.3 67.7,310.0 69.8,311.7 69.9,312.4 69.2,315.1ZM79.3,291.8 77.7,291.8 79.6,294.3 79.7,294.1ZM55.0,334.7 55.0,334.5 53.1,329.7 50.5,329.5 52.2,335.8 53.5,336.0 53.6,336.0ZM133.4,358.4 135.5,359.7 135.0,362.4 134.4,362.8 133.1,362.2 133.2,358.5ZM86.5,369.5 87.4,368.4 89.7,369.5ZM149.4,315.0 149.4,316.4 147.4,316.3 146.9,314.2ZM84.7,365.3 83.5,366.6 81.9,365.4 83.6,363.0 84.7,363.9ZM65.5,320.0 65.6,326.3 66.7,326.9 69.4,326.9 66.5,320.0ZM59.9,344.8 57.0,346.7 56.5,342.1ZM70.4,301.2 70.4,301.0 72.5,300.7 73.4,301.2 73.4,301.6ZM78.3,357.2 81.2,358.9 81.3,359.4 78.1,364.0 76.8,357.5ZM107.7,358.9 108.3,358.0 109.0,357.6 112.1,358.8 113.5,360.7 110.6,362.7 109.3,362.3ZM54.1,302.9 53.8,302.8 54.1,302.3 54.3,302.5ZM92.9,312.4 93.6,308.4 91.5,307.7 92.4,312.6ZM146.8,321.6 149.3,321.7 149.3,322.7 146.0,322.7ZM45.9,349.4 50.3,349.4 52.1,348.0 51.3,340.3 51.0,340.2 45.9,342.3ZM53.6,360.0 50.0,354.2 45.3,354.2 45.3,360.7 49.4,363.6ZM121.0,306.5 121.7,306.7 125.6,306.1 125.7,306.0 126.5,300.3 123.2,298.1 120.2,298.3 117.4,301.6ZM141.2,307.8 141.8,307.8 144.9,303.8 144.8,300.5 138.1,295.8 137.2,297.1 140.5,307.1ZM138.3,315.7 141.3,312.2 142.9,318.4 141.7,320.2Z" fill="#e8e6f9" stroke="#e8e6f9" stroke-width="2.2" stroke-linejoin="round"/></g></g>
<rect x="43.800000000000004" y="290.20000000000005" width="107.6" height="80.5" fill="none" stroke="#14122e" stroke-width="1.3"/>
<filter id="th4" x="0" y="0" width="100%" height="100%" color-interpolation-filters="sRGB"><feTurbulence type="fractalNoise" baseFrequency="0.42" numOctaves="2" seed="24"/><feColorMatrix type="matrix" values="1 0 0 0 0 1 0 0 0 0 1 0 0 0 0 0 0 0 0 1"/><feComponentTransfer result="B"><feFuncR type="table" tableValues="0.314 0.319 0.324 0.33 0.335 0.341 0.346 0.351 0.357 0.362 0.367 0.373 0.378 0.383 0.389 0.394 0.4 0.405 0.41 0.416 0.437 0.459 0.481 0.503 0.525 0.546 0.568 0.59 0.612 0.64 0.668 0.696 0.724 0.752 0.78 0.808 0.814 0.82 0.827 0.833 0.839 0.845 0.852 0.858 0.864 0.871 0.877 0.883 0.889 0.896 0.902"/><feFuncG type="table" tableValues="0.212 0.217 0.222 0.227 0.232 0.237 0.241 0.246 0.251 0.256 0.261 0.266 0.271 0.276 0.281 0.286 0.291 0.296 0.301 0.306 0.329 0.351 0.374 0.397 0.419 0.442 0.464 0.487 0.51 0.542 0.575 0.607 0.64 0.672 0.705 0.737 0.745 0.753 0.761 0.769 0.776 0.784 0.792 0.8 0.808 0.816 0.824 0.831 0.839 0.847 0.855"/><feFuncB type="table" tableValues="0.541 0.546 0.55 0.555 0.559 0.564 0.568 0.573 0.578 0.582 0.587 0.591 0.596 0.6 0.605 0.609 0.614 0.618 0.623 0.627 0.644 0.661 0.677 0.694 0.71 0.727 0.743 0.76 0.776 0.793 0.81 0.827 0.844 0.861 0.877 0.894 0.898 0.901 0.905 0.909 0.912 0.916 0.92 0.923 0.927 0.931 0.934 0.938 0.942 0.945 0.949"/></feComponentTransfer></filter>
<filter id="wh4" x="-5%" y="-5%" width="110%" height="110%" color-interpolation-filters="sRGB"><feTurbulence type="fractalNoise" baseFrequency="0.12" numOctaves="2" seed="5"/><feDisplacementMap in="SourceGraphic" scale="4" xChannelSelector="R" yChannelSelector="G"/><feGaussianBlur stdDeviation="0.6"/><feComponentTransfer><feFuncA type="linear" slope="7" intercept="-3"/></feComponentTransfer><feGaussianBlur stdDeviation="0.3"/></filter>
<clipPath id="ch4"><rect x="152.9" y="289.6" width="108.1" height="81.7"/></clipPath>
<rect x="152.9" y="289.6" width="108.1" height="81.7" filter="url(#th4)"/>
<g clip-path="url(#ch4)"><g filter="url(#wh4)"><path d="M255.3,330.0 256.0,332.1 254.0,332.0 255.3,330.0ZM220.6,321.4 220.6,320.6 217.0,319.8 215.9,322.2ZM239.8,304.3 239.0,304.8 238.6,302.2 238.8,301.8 239.9,302.1ZM245.3,335.2 245.8,333.2 246.6,333.1 247.7,333.7ZM249.7,329.5 250.9,326.4 251.7,326.2 251.8,326.2 252.2,327.0 250.3,329.9ZM199.9,354.4 201.3,356.3 201.1,357.4 200.8,357.7ZM257.9,319.6 257.9,319.9 258.9,320.1 258.9,318.5ZM257.4,365.6 258.6,365.1 258.6,368.9 257.3,368.9ZM172.1,338.5 171.9,339.8 173.6,340.8 173.7,340.8 173.9,340.0ZM229.1,366.6 228.2,366.9 229.1,369.1 229.5,368.1ZM225.0,300.9 225.9,297.9 223.7,298.5 224.9,301.0ZM210.6,368.0 205.4,367.8 205.7,368.9 211.2,368.9ZM192.2,310.8 192.7,310.7 191.3,307.8 189.1,307.1ZM258.1,336.7 254.1,336.4 254.8,338.5ZM182.8,366.0 181.0,366.7 179.5,363.8 182.7,364.5ZM204.6,304.9 205.2,308.2 201.4,308.1 202.1,304.8ZM176.3,325.8 172.7,325.0 169.0,328.1 170.3,330.6 173.5,329.6ZM189.8,301.7 189.4,302.3 190.7,302.7ZM241.5,312.1 241.4,313.4 242.6,312.7 242.5,312.2ZM193.1,319.3 192.1,316.0 192.8,315.2 194.1,314.8 194.7,318.5ZM255.9,325.6 257.1,326.1 259.0,325.0 259.0,324.4 256.4,323.7 255.5,324.8ZM185.2,354.8 185.1,355.4 185.6,355.8 186.0,355.5ZM247.7,364.6 246.3,365.3 245.9,364.9 247.9,363.1ZM176.6,298.7 174.9,295.9 175.7,294.8 179.8,294.7 177.1,298.5ZM237.7,340.5 238.8,341.7 241.1,338.8 241.1,338.8 238.7,338.5ZM177.0,330.7 178.5,328.6 180.5,333.0 180.5,333.1ZM163.4,347.6 163.7,348.8 163.7,348.8 161.5,348.5 159.7,346.9 160.0,346.2ZM209.6,347.7 209.2,348.4 209.6,348.1ZM160.3,341.8 163.7,343.2 163.9,342.4 163.8,342.3 160.2,341.5ZM194.6,331.1 194.7,329.1 194.0,328.8 191.9,330.6ZM189.3,340.3 190.0,340.6 188.9,341.9 188.4,341.9ZM214.2,340.4 214.5,341.1 215.7,340.0ZM156.5,306.0 157.7,307.5 159.1,307.7 159.4,306.7 157.2,305.6ZM223.9,329.0 223.6,329.5 226.9,331.4 227.7,331.0 227.9,329.8ZM208.2,337.8 205.6,339.5 204.6,339.3 205.2,336.2 206.2,336.2 207.9,337.1ZM162.7,295.2 164.6,296.6 165.0,300.8 162.1,303.3 159.4,301.9ZM231.7,331.7 232.2,329.1 233.2,327.7 235.4,328.1 234.5,332.7 232.4,332.5ZM192.9,350.3 193.6,349.2 196.5,348.9 196.7,349.2 195.8,350.4 193.4,351.3ZM182.0,323.2 184.6,323.8 182.4,322.0ZM252.0,356.7 250.1,354.5 248.7,355.9 249.8,358.1 250.4,358.3ZM202.2,361.9 203.7,360.6 209.1,361.6 210.0,362.8 210.0,363.7 203.3,363.5 202.3,362.3ZM193.1,337.0 190.7,336.0 191.3,334.2 194.0,334.6ZM243.0,320.8 246.1,317.2 245.9,316.4 244.7,315.8 241.7,317.5ZM233.6,337.1 233.5,337.8 233.9,338.1 234.4,337.2ZM221.6,355.8 221.5,355.7 220.0,353.8 220.2,351.6 221.7,351.1 221.9,351.3 221.9,355.4ZM161.3,352.8 161.9,352.8 161.7,354.4 159.9,354.0ZM163.9,365.5 161.9,364.7 160.1,367.7 161.5,369.7 162.6,369.7 164.1,365.9ZM244.3,369.3 240.9,369.3 241.3,366.8 241.5,366.8 244.2,369.2ZM231.5,356.0 225.7,357.6 230.3,359.2 232.0,356.2ZM194.7,363.0 193.4,364.2 193.2,368.0 197.1,363.2ZM233.8,321.2 238.0,319.1 239.2,322.4 238.3,323.8 237.8,323.9 234.0,323.2 233.7,322.5ZM236.5,295.7 237.0,294.5 238.3,294.6 237.4,296.5ZM183.8,317.8 188.5,321.7 189.5,321.3 188.2,317.2ZM233.3,360.9 235.4,357.3 236.6,357.2 237.5,362.5ZM259.2,343.5 257.3,344.6 256.0,342.4 259.2,340.7ZM255.1,292.5 255.6,292.0 255.6,291.2 254.1,291.2 252.0,291.2 251.7,292.6ZM258.3,302.6 258.3,302.8 255.9,303.2 256.0,303.0 257.1,302.4ZM197.3,300.8 194.2,297.7 193.5,298.3 195.7,300.7ZM155.2,350.7 156.7,350.2 157.1,350.5 155.2,352.2ZM233.2,298.7 233.8,299.8 234.6,299.6 233.6,298.7ZM218.3,311.1 222.4,311.7 222.6,311.4 220.7,309.1ZM250.6,302.4 249.6,302.0 249.6,301.9 249.9,300.4 250.9,301.6ZM219.8,360.4 219.7,360.3 214.1,363.4 214.2,364.9 215.5,367.1 219.8,362.8ZM239.4,345.6 239.5,345.6 241.5,348.1 239.6,351.2 238.2,347.7ZM169.3,356.1 169.5,352.5 168.1,351.5 166.8,351.4 166.1,352.0 165.6,355.4 168.1,357.1ZM255.8,354.9 253.0,351.6 255.4,350.9 255.9,354.9ZM178.5,311.2 179.2,313.6 180.6,314.3 181.3,309.1 180.6,309.0ZM178.6,340.5 178.4,341.8 179.1,342.5 181.0,342.5 179.3,340.0ZM174.5,345.2 172.7,348.0 175.1,346.7 175.5,345.6 175.0,345.1ZM191.9,293.0 189.0,295.5 186.0,292.3 192.1,292.3ZM220.6,335.8 221.6,337.1 221.7,337.2 223.2,334.4 221.4,333.4ZM156.3,318.7 156.8,319.2 156.6,322.4 155.0,321.5 155.0,319.2ZM199.5,343.5 201.6,342.8 202.2,346.5 199.7,347.2 199.3,346.6ZM166.6,310.4 164.4,311.7 164.0,311.6 162.8,310.2 163.4,308.2 166.6,310.3ZM195.8,325.3 196.5,322.5 194.6,323.5 195.4,325.1ZM167.2,364.0 168.3,361.8 169.7,364.0ZM212.2,359.7 212.3,359.8 217.0,357.3 216.4,356.4 213.4,356.7ZM214.9,352.2 214.9,352.2 213.1,352.4 212.7,351.9ZM210.6,309.6 209.7,308.8 209.1,305.8 210.2,305.7ZM196.6,293.9 200.0,297.2 201.3,295.3 200.7,291.7 197.2,291.7ZM199.2,368.8 200.6,368.8 200.3,367.4ZM184.5,303.8 184.0,304.8 183.3,305.2 180.7,304.9 178.5,302.0 184.5,303.8ZM168.3,343.9 167.7,345.9 167.9,346.5 169.6,344.0 169.0,343.7ZM201.7,332.4 201.7,331.7 199.8,329.6 198.3,329.5 198.2,331.8ZM234.5,315.6 233.2,316.2 232.8,313.8 232.9,313.8ZM224.0,362.6 224.0,360.8 228.4,362.3 225.5,363.5ZM154.5,368.3 157.2,369.1 157.6,369.7 154.5,369.7ZM158.5,313.3 158.5,312.3 159.9,312.5ZM254.4,316.0 255.4,316.5 257.4,314.3 254.2,312.8ZM206.4,291.8 208.4,294.7 207.7,295.0 205.5,294.2 205.1,291.8ZM159.0,362.8 157.9,362.6 155.5,365.0 157.4,365.5ZM182.1,347.7 179.9,347.6 179.7,348.1 180.3,349.4 182.2,349.5 182.4,349.0ZM239.6,329.4 241.2,331.4 240.5,334.3 238.7,334.0ZM222.2,292.3 223.5,292.3 223.8,293.3 222.4,293.6ZM222.3,366.9 220.4,368.8 223.9,368.8 223.3,367.5ZM168.5,324.2 168.0,320.5 170.1,320.2 170.5,322.4ZM173.5,318.7 173.5,318.7 173.9,321.5 177.6,322.4 179.2,318.2 177.3,317.2ZM197.0,358.9 195.7,354.0 195.0,354.2 195.6,358.7ZM218.6,300.4 220.6,303.1 219.2,300.2ZM188.8,367.9 186.1,366.1 186.0,363.9 186.5,363.5 189.0,364.2ZM245.9,328.7 247.1,325.7 243.5,324.3 243.0,324.3 242.0,325.9 244.4,328.9ZM179.8,354.3 179.4,354.8 179.5,355.5 180.5,354.9 180.6,354.3ZM188.6,313.7 189.2,313.1 185.4,308.6 184.5,314.2ZM214.3,328.7 217.7,331.3 217.0,333.5 214.5,332.2ZM157.4,327.2 157.5,327.3 154.6,332.1 154.6,325.6ZM248.1,338.7 250.2,337.3 251.1,340.1ZM224.9,340.1 225.0,340.3 225.7,340.4 229.4,337.9 229.7,335.1 229.0,334.4 228.0,334.9ZM224.4,325.4 224.2,324.5 230.1,324.7 230.3,325.2 229.5,326.4ZM212.9,314.1 213.4,317.5 213.0,318.5 210.5,316.4 211.7,314.4 212.9,314.1ZM217.7,316.3 221.4,317.1 221.8,316.4 221.7,315.8 217.5,315.2ZM173.1,354.8 173.1,355.7 175.4,356.8 175.1,355.6ZM209.2,322.0 209.1,323.6 211.2,324.2 211.4,324.1 211.5,323.9 211.5,323.9ZM195.5,304.6 194.5,306.2 196.4,310.2 197.3,309.8 197.7,309.3 198.6,304.7ZM224.0,319.7 224.0,321.1 229.6,321.3 229.6,321.1 224.4,319.0ZM165.8,331.4 165.2,330.2 161.5,329.5 161.2,329.6 158.9,333.3 164.8,332.3ZM216.1,325.7 220.8,324.9 221.0,326.5 219.8,328.6ZM245.1,359.2 244.3,357.5 241.0,356.7 241.8,362.1ZM172.1,292.1 172.2,292.3 171.5,293.3 167.0,293.2 165.5,292.1ZM237.3,312.3 237.4,310.4 237.0,310.0 236.4,310.2 236.0,310.9ZM169.0,298.3 169.2,300.3 169.7,300.8 172.4,300.3 171.3,298.4ZM215.7,296.6 214.6,295.5 216.9,291.7 217.2,291.7 218.0,295.7ZM234.3,344.8 234.8,343.9 235.4,344.6 235.2,345.0ZM204.5,326.5 203.3,328.0 203.1,327.7 204.0,326.5ZM254.6,308.5 254.7,308.5 258.8,310.5 258.8,307.7ZM243.5,303.3 243.5,304.3 244.2,304.6 245.3,303.8ZM174.2,333.4 173.3,333.7 176.4,336.4 177.4,335.6ZM211.4,291.6 212.2,291.6 211.8,292.2ZM201.7,317.2 199.8,318.9 199.7,318.9 199.1,318.6 198.4,314.0ZM250.0,311.0 246.3,311.8 246.4,312.9 247.1,313.3ZM167.7,335.7 167.1,339.6 167.7,339.4 168.6,335.0ZM209.3,333.4 209.4,333.5 211.0,332.3 210.9,330.8ZM171.0,307.0 171.4,305.5 171.1,305.5ZM233.1,353.0 231.6,349.6 232.2,348.5 235.1,349.0 236.8,353.5 234.5,353.8ZM190.4,361.2 191.2,360.4 188.6,358.3 187.3,359.2 187.5,360.4ZM181.7,360.0 182.6,359.5 183.2,360.0 183.3,360.3ZM196.1,342.9 195.9,345.6 193.3,345.9 192.3,344.5 194.5,341.9ZM190.5,325.2 189.8,325.5 188.9,327.0 189.0,327.6 189.1,327.6 191.0,326.1ZM237.2,369.7 237.6,367.3 233.1,369.4 233.0,369.7ZM159.9,316.8 162.6,317.2 162.8,317.1 162.8,315.1ZM252.9,321.6 252.2,319.5 252.6,319.4 253.8,320.0 253.7,320.7ZM180.8,299.1 185.6,300.5 186.3,298.9 183.3,295.7ZM221.0,346.6 219.0,347.3 217.3,344.1 220.4,341.3 221.8,341.7 222.2,342.3ZM175.2,308.0 175.6,308.2 177.1,306.6 176.0,305.1ZM154.8,301.8 155.8,301.3 160.0,292.7 159.6,291.5 154.8,291.5ZM242.7,291.5 242.2,291.5 241.7,292.7 243.6,293.1ZM213.6,347.8 213.7,345.3 214.2,345.3 215.6,348.0ZM249.4,316.2 249.8,316.4 250.8,316.0 250.7,314.9 249.3,316.0ZM204.6,350.6 204.2,350.4 203.1,350.8 204.0,351.9 204.8,351.1ZM157.6,357.4 158.5,359.0 159.6,359.2 160.2,358.0ZM257.5,358.8 256.1,358.9 254.3,360.6 255.4,361.4 258.8,360.0 258.8,359.4ZM246.4,308.1 246.4,307.6 248.1,306.2 250.4,307.2ZM248.1,344.3 248.6,343.3 247.5,342.8ZM173.5,361.8 174.3,361.4 172.9,360.7ZM201.0,336.3 200.5,338.9 198.1,339.8 196.7,338.8 197.8,335.8ZM205.3,315.5 206.3,315.5 207.9,312.7 206.8,311.8 201.3,311.7ZM231.7,309.1 231.7,309.1 230.3,309.7 230.1,309.6 230.8,308.2Z" fill="#ece8fa" stroke="#ece8fa" stroke-width="2.0" stroke-linejoin="round"/></g></g>
<rect x="153.5" y="290.20000000000005" width="106.89999999999999" height="80.5" fill="none" stroke="#14122e" stroke-width="1.3"/>
<text x="8.6" y="249.2" font-size="9.1" text-anchor="middle" font-weight="bold" transform="rotate(-90 8.6 249.2)" fill="#000">Primed</text>
<text x="21.1" y="248" font-size="9.1" text-anchor="middle" font-weight="bold" transform="rotate(-90 21.1 248)" fill="#000">non-depletion</text>
<text x="32.8" y="248.6" font-size="9.15" text-anchor="middle" font-weight="bold" transform="rotate(-90 32.8 248.6)" fill="#000">(PBS-liposomes)</text>
<text x="8.7" y="339.9" font-size="9.7" text-anchor="middle" font-weight="bold" transform="rotate(-90 8.7 339.9)" fill="#000">Primed</text>
<text x="21.4" y="340.1" font-size="9.9" text-anchor="middle" font-weight="bold" transform="rotate(-90 21.4 340.1)" fill="#000">Mac-depletion</text>
<text x="34.6" y="338.4" font-size="9.75" font-weight="bold" text-anchor="middle" transform="rotate(-90 34.6 338.4)">(Cl<tspan dy="3.6" font-size="9">2</tspan><tspan dy="-3.6">MDP-liposomes)</tspan></text>
<text x="0.9" y="417.2" font-size="19" text-anchor="start" fill="#000">E</text>
<line x1="54.8" y1="411.475" x2="54.8" y2="521.225" stroke="#000" stroke-width="1.25"/>
<line x1="52.599999999999994" y1="412.1" x2="54.8" y2="412.1" stroke="#000" stroke-width="1.25"/>
<text x="49.2" y="415.0" font-size="8.1" text-anchor="end" font-weight="bold" fill="#000">20</text>
<line x1="52.599999999999994" y1="422.95" x2="54.8" y2="422.95" stroke="#000" stroke-width="1.25"/>
<text x="49.2" y="425.85" font-size="8.1" text-anchor="end" font-weight="bold" fill="#000">18</text>
<line x1="52.599999999999994" y1="433.8" x2="54.8" y2="433.8" stroke="#000" stroke-width="1.25"/>
<text x="49.2" y="436.7" font-size="8.1" text-anchor="end" font-weight="bold" fill="#000">16</text>
<line x1="52.599999999999994" y1="444.65" x2="54.8" y2="444.65" stroke="#000" stroke-width="1.25"/>
<text x="49.2" y="447.55" font-size="8.1" text-anchor="end" font-weight="bold" fill="#000">14</text>
<line x1="52.599999999999994" y1="455.5" x2="54.8" y2="455.5" stroke="#000" stroke-width="1.25"/>
<text x="49.2" y="458.4" font-size="8.1" text-anchor="end" font-weight="bold" fill="#000">12</text>
<line x1="52.599999999999994" y1="466.35" x2="54.8" y2="466.35" stroke="#000" stroke-width="1.25"/>
<text x="49.2" y="469.25" font-size="8.1" text-anchor="end" font-weight="bold" fill="#000">10</text>
<line x1="52.599999999999994" y1="477.2" x2="54.8" y2="477.2" stroke="#000" stroke-width="1.25"/>
<text x="49.2" y="480.1" font-size="8.1" text-anchor="end" font-weight="bold" fill="#000">8</text>
<line x1="52.599999999999994" y1="488.05" x2="54.8" y2="488.05" stroke="#000" stroke-width="1.25"/>
<text x="49.2" y="490.95" font-size="8.1" text-anchor="end" font-weight="bold" fill="#000">6</text>
<line x1="52.599999999999994" y1="498.9" x2="54.8" y2="498.9" stroke="#000" stroke-width="1.25"/>
<text x="49.2" y="501.8" font-size="8.1" text-anchor="end" font-weight="bold" fill="#000">4</text>
<line x1="52.599999999999994" y1="509.75" x2="54.8" y2="509.75" stroke="#000" stroke-width="1.25"/>
<text x="49.2" y="512.65" font-size="8.1" text-anchor="end" font-weight="bold" fill="#000">2</text>
<line x1="52.599999999999994" y1="520.6" x2="54.8" y2="520.6" stroke="#000" stroke-width="1.25"/>
<text x="49.2" y="523.5" font-size="8.1" text-anchor="end" font-weight="bold" fill="#000">0</text>
<line x1="54.8" y1="520.6" x2="205" y2="520.6" stroke="#000" stroke-width="1.25"/>
<line x1="104.8" y1="520.6" x2="104.8" y2="522.6" stroke="#000" stroke-width="1.25"/>
<line x1="154.8" y1="520.6" x2="154.8" y2="522.6" stroke="#000" stroke-width="1.25"/>
<rect x="61.7" y="403.9" width="23" height="5" fill="#ababab" stroke="#1c1c1c" stroke-width="1"/>
<rect x="61.2" y="412.2" width="24" height="5.8" fill="#000"/>
<text x="89.2" y="410" font-size="8.8" text-anchor="start" fill="#000" stroke="#000" stroke-width="0.5">Control</text>
<text x="89.2" y="418.6" font-size="8.8" text-anchor="start" fill="#000" stroke="#000" stroke-width="0.5">Macrophage depleted</text>
<rect x="89.97500000000001" y="433.775" width="14.85" height="86.25000000000003" fill="#ababab" stroke="#1c1c1c" stroke-width="1.15"/>
<line x1="97.5" y1="433.2" x2="97.5" y2="427" stroke="#000" stroke-width="0.9"/>
<line x1="95.5" y1="427" x2="99.5" y2="427" stroke="#000" stroke-width="0.9"/>
<rect x="105.2" y="497.8" width="15.0" height="22.80000000000001" fill="#000"/>
<text x="112.8" y="500.6" font-size="18.5" text-anchor="middle" fill="#000" font-family="'Liberation Serif', serif">*</text>
<rect x="139.975" y="515.375" width="14.449999999999994" height="4.650000000000068" fill="#ababab" stroke="#1c1c1c" stroke-width="1.15"/>
<line x1="147.3" y1="514.8" x2="147.3" y2="513.4" stroke="#000" stroke-width="0.9"/>
<line x1="145.70000000000002" y1="513.4" x2="148.9" y2="513.4" stroke="#000" stroke-width="0.9"/>
<rect x="155" y="514.8" width="15" height="5.800000000000068" fill="#000"/>
<line x1="162.5" y1="514.8" x2="162.5" y2="513.4" stroke="#000" stroke-width="0.9"/>
<line x1="160.9" y1="513.4" x2="164.1" y2="513.4" stroke="#000" stroke-width="0.9"/>
<text x="105.3" y="533.7" font-size="10.3" text-anchor="middle" fill="#000" stroke="#000" stroke-width="0.4">d1</text>
<text x="154.9" y="533.7" font-size="10.3" text-anchor="middle" fill="#000" stroke="#000" stroke-width="0.4">d5</text>
<line x1="88.8" y1="536.4" x2="173" y2="536.4" stroke="#000" stroke-width="1.25"/>
<text x="130.6" y="548.1" font-size="10.2" text-anchor="middle" fill="#000" stroke="#000" stroke-width="0.4">LPS</text>
<text x="15" y="461.5" font-size="11.3" text-anchor="middle" transform="rotate(-90 15 461.5)" fill="#000" stroke="#000" stroke-width="0.25">BAL IL-10</text>
<text x="30" y="461.5" font-size="11.3" text-anchor="middle" transform="rotate(-90 30 461.5)" fill="#000" stroke="#000" stroke-width="0.25">(pg/ml)</text>
<text x="310.6" y="417.2" font-size="19" text-anchor="start" fill="#000">F</text>
<line x1="362.4" y1="411.175" x2="362.4" y2="519.425" stroke="#000" stroke-width="1.25"/>
<line x1="360.2" y1="411.8" x2="362.4" y2="411.8" stroke="#000" stroke-width="1.25"/>
<text x="357.9" y="415.1" font-size="9.2" text-anchor="end" fill="#000" stroke="#000" stroke-width="0.4">350</text>
<line x1="360.2" y1="427.09" x2="362.4" y2="427.09" stroke="#000" stroke-width="1.25"/>
<text x="357.9" y="430.39" font-size="9.2" text-anchor="end" fill="#000" stroke="#000" stroke-width="0.4">300</text>
<line x1="360.2" y1="442.37" x2="362.4" y2="442.37" stroke="#000" stroke-width="1.25"/>
<text x="357.9" y="445.67" font-size="9.2" text-anchor="end" fill="#000" stroke="#000" stroke-width="0.4">250</text>
<line x1="360.2" y1="457.66" x2="362.4" y2="457.66" stroke="#000" stroke-width="1.25"/>
<text x="357.9" y="460.96" font-size="9.2" text-anchor="end" fill="#000" stroke="#000" stroke-width="0.4">200</text>
<line x1="360.2" y1="472.94" x2="362.4" y2="472.94" stroke="#000" stroke-width="1.25"/>
<text x="357.9" y="476.24" font-size="9.2" text-anchor="end" fill="#000" stroke="#000" stroke-width="0.4">150</text>
<line x1="360.2" y1="488.23" x2="362.4" y2="488.23" stroke="#000" stroke-width="1.25"/>
<text x="357.9" y="491.53" font-size="9.2" text-anchor="end" fill="#000" stroke="#000" stroke-width="0.4">100</text>
<line x1="360.2" y1="503.51" x2="362.4" y2="503.51" stroke="#000" stroke-width="1.25"/>
<text x="357.9" y="506.81" font-size="9.2" text-anchor="end" fill="#000" stroke="#000" stroke-width="0.4">50</text>
<line x1="360.2" y1="518.8" x2="362.4" y2="518.8" stroke="#000" stroke-width="1.25"/>
<text x="357.9" y="522.1" font-size="9.2" text-anchor="end" fill="#000" stroke="#000" stroke-width="0.4">0</text>
<line x1="362.4" y1="518.8" x2="513" y2="518.8" stroke="#000" stroke-width="1.25"/>
<rect x="370.5" y="403.9" width="22.4" height="5" fill="#ababab" stroke="#1c1c1c" stroke-width="1"/>
<rect x="370" y="412.3" width="23.4" height="5.7" fill="#000"/>
<text x="398" y="410" font-size="8.8" text-anchor="start" fill="#000" stroke="#000" stroke-width="0.5">Control</text>
<text x="398" y="418.6" font-size="8.8" text-anchor="start" fill="#000" stroke="#000" stroke-width="0.5">Macrophage depleted</text>
<rect x="397.775" y="432.575" width="14.250000000000034" height="85.64999999999995" fill="#ababab" stroke="#1c1c1c" stroke-width="1.15"/>
<line x1="405" y1="432" x2="405" y2="424.8" stroke="#000" stroke-width="0.9"/>
<line x1="403" y1="424.8" x2="407" y2="424.8" stroke="#000" stroke-width="0.9"/>
<rect x="412.5" y="482.5" width="15.0" height="36.299999999999955" fill="#000"/>
<text x="420.3" y="484" font-size="18.5" text-anchor="middle" fill="#000" font-family="'Liberation Serif', serif">*</text>
<rect x="447.8" y="517.9" width="13.9" height="0.5999999999999318" fill="#ababab" stroke="#1c1c1c" stroke-width="0.6"/>
<rect x="462" y="498.8" width="15.5" height="19.999999999999943" fill="#000"/>
<line x1="469.8" y1="498.8" x2="469.8" y2="496.3" stroke="#000" stroke-width="0.9"/>
<line x1="468.2" y1="496.3" x2="471.40000000000003" y2="496.3" stroke="#000" stroke-width="0.9"/>
<text x="469" y="499" font-size="18.5" text-anchor="middle" fill="#000" font-family="'Liberation Serif', serif">*</text>
<text x="412" y="532.4" font-size="10.3" text-anchor="middle" fill="#000" stroke="#000" stroke-width="0.4">d1</text>
<text x="462.4" y="532.4" font-size="10.3" text-anchor="middle" fill="#000" stroke="#000" stroke-width="0.4">d5</text>
<line x1="397" y1="536.1" x2="479.4" y2="536.1" stroke="#000" stroke-width="1.25"/>
<text x="435.8" y="548.1" font-size="10.4" text-anchor="middle" fill="#000" stroke="#000" stroke-width="0.4">LPS</text>
<text x="319.8" y="460" font-size="11.3" text-anchor="middle" transform="rotate(-90 319.8 460)" fill="#000" stroke="#000" stroke-width="0.25">BAL TNF-α</text>
<text x="333.2" y="460" font-size="11.3" text-anchor="middle" transform="rotate(-90 333.2 460)" fill="#000" stroke="#000" stroke-width="0.25">(pg/ml)</text>
</svg>
</body>
</html>
